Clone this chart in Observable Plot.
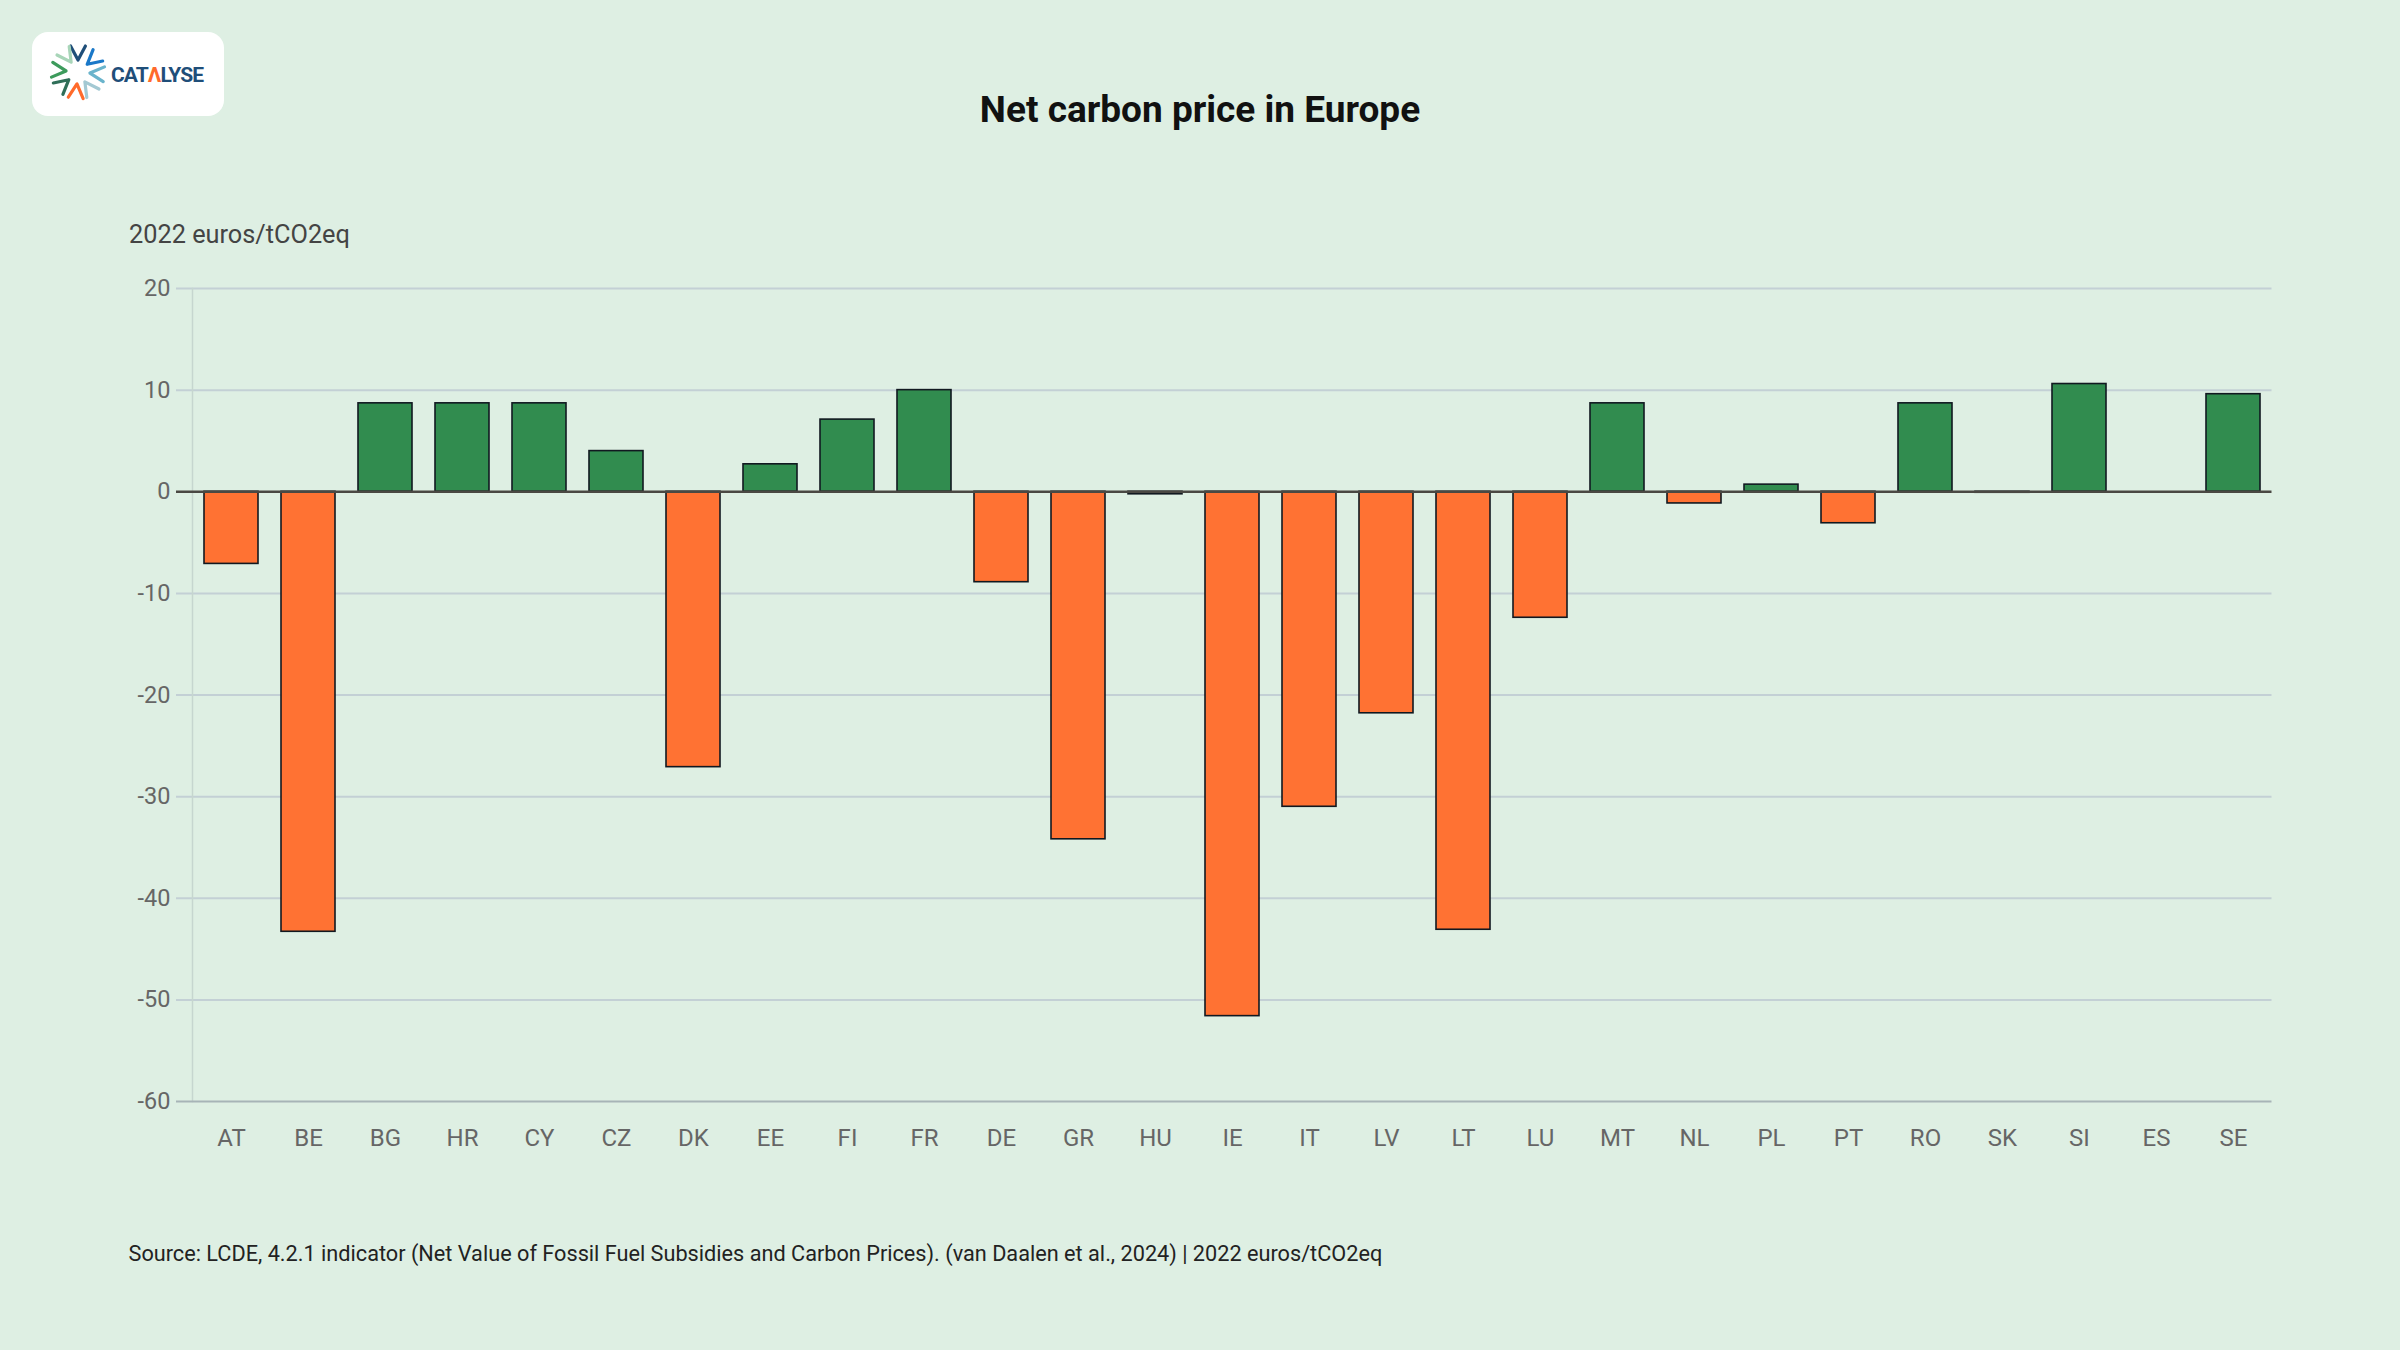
<!DOCTYPE html>
<html>
<head>
<meta charset="utf-8">
<script src="https://cdn.jsdelivr.net/npm/d3@7"></script>
<script src="https://cdn.jsdelivr.net/npm/@observablehq/plot@0.6"></script>
<style>
  html, body { margin: 0; padding: 0; background: #deefe3; }
  #page { position: relative; width: 2400px; height: 1350px; background: #deefe3; font-family: Roboto, "Noto Sans", sans-serif; overflow: hidden; }
  #logo { position: absolute; left: 32px; top: 32px; width: 192px; height: 84px; background: #ffffff; border-radius: 16px; }
  #title { position: absolute; left: 0; top: 90.6px; width: 2400px; text-align: center; font-size: 37px; line-height: 37px; font-weight: 700; color: #111; }
  #ylabel { position: absolute; left: 129px; top: 221.7px; font-size: 25.3px; line-height: 25.3px; color: #444; }
  #chart { position: absolute; left: 0; top: 260px; }
  #caption { position: absolute; left: 128.5px; top: 1243.4px; font-size: 21.7px; line-height: 21.7px; color: #222; }
</style>
</head>
<body>
<div id="page">
  <div id="logo"></div>
  <div id="title">Net carbon price in Europe</div>
  <div id="ylabel">2022 euros/tCO2eq</div>
  <div id="chart"></div>
  <div id="caption">Source: LCDE, 4.2.1 indicator (Net Value of Fossil Fuel Subsidies and Carbon Prices). (van Daalen et al., 2024) | 2022 euros/tCO2eq</div>
</div>
<script>
const countries = ["AT","BE","BG","HR","CY","CZ","DK","EE","FI","FR","DE","GR","HU","IE","IT","LV","LT","LU","MT","NL","PL","PT","RO","SK","SI","ES","SE"];
const values = [-7.1,-43.3,8.7,8.7,8.7,4.0,-27.1,2.7,7.1,10.0,-8.9,-34.2,-0.25,-51.6,-31.0,-21.8,-43.1,-12.4,8.7,-1.15,0.7,-3.1,8.7,-0.1,10.6,0,9.6];
const yTicks = [-60,-50,-40,-30,-20,-10,0,10,20];
const signs = ["positive","negative"];
const signColors = ["#318c4f","#ff7233"];

const data = countries.map((c, i) => ({country: c, value: values[i], sign: values[i] >= 0 ? "positive" : "negative"}));

const chart = Plot.plot({
  width: 2400,
  height: 901,
  marginTop: 28,
  marginBottom: 60,
  marginLeft: 192,
  marginRight: 128.5,
  style: {background: "transparent", fontFamily: "Roboto, 'Noto Sans', sans-serif", fontSize: "24px", color: "#666"},
  x: {domain: countries, paddingInner: 0.3, paddingOuter: 0.15, label: null},
  y: {domain: [-60, 20], label: null},
  color: {domain: signs, range: signColors},
  marks: [
    Plot.ruleY(yTicks.filter(t => t !== 0 && t !== -60), {stroke: "#c3d0d5", strokeWidth: 2, insetLeft: -16}),
    Plot.frame({anchor: "left", stroke: "#c6d6cf", strokeWidth: 1.5}),
    Plot.barY(data, {x: "country", y: "value", fill: "sign", stroke: "#111820", strokeWidth: 1.6}),
    Plot.ruleY([-60], {stroke: "#a7b4b7", strokeWidth: 2, insetLeft: -16}),
    Plot.ruleY([0], {stroke: "#4a4843", strokeWidth: 2.7, insetLeft: -16}),
    Plot.axisY({ticks: yTicks, tickFormat: d => String(d), tickSize: 0, tickPadding: 22, fontSize: 23.5, fill: "#666", label: null}),
    Plot.axisX({tickSize: 0, tickPadding: 27, fontSize: 24, fill: "#666", label: null})
  ]
});
document.getElementById("chart").appendChild(chart);

// Logo (decoration)
(function () {
  const ns = "http://www.w3.org/2000/svg";
  const svg = document.createElementNS(ns, "svg");
  svg.setAttribute("width", 192);
  svg.setAttribute("height", 84);
  const cx = 46, cy = 40;
  const spokes = [
    {a: -90, c: "#1f4e79"},
    {a: -40, c: "#1a78c8"},
    {a: 5, c: "#6ab4cc"},
    {a: 55, c: "#a3c9d3"},
    {a: 95, c: "#ff6a2b"},
    {a: 140, c: "#2f6e58"},
    {a: 185, c: "#3d9b5c"},
    {a: -125, c: "#a8d5b8"}
  ];
  const r1 = 12, r2 = 27, spread = 16;
  spokes.forEach(s => {
    const t = s.a * Math.PI / 180;
    const t1 = (s.a - spread) * Math.PI / 180;
    const t2 = (s.a + spread) * Math.PI / 180;
    const p = [
      [cx + r2 * Math.cos(t1), cy + r2 * Math.sin(t1)],
      [cx + r1 * Math.cos(t), cy + r1 * Math.sin(t)],
      [cx + r2 * Math.cos(t2), cy + r2 * Math.sin(t2)]
    ];
    const pl = document.createElementNS(ns, "polyline");
    pl.setAttribute("points", p.map(q => q.join(",")).join(" "));
    pl.setAttribute("fill", "none");
    pl.setAttribute("stroke", s.c);
    pl.setAttribute("stroke-width", 3.2);
    pl.setAttribute("stroke-linecap", "round");
    pl.setAttribute("stroke-linejoin", "round");
    svg.appendChild(pl);
  });
  const txt = document.createElementNS(ns, "text");
  txt.setAttribute("x", 79);
  txt.setAttribute("y", 49.7);
  txt.setAttribute("font-family", "Roboto, sans-serif");
  txt.setAttribute("font-weight", "700");
  txt.setAttribute("font-size", 21);
  txt.setAttribute("fill", "#1f4e79");
  txt.setAttribute("textLength", 93);
  txt.setAttribute("lengthAdjust", "spacing");
  const parts = [["CAT", "#1f4e79"], ["Λ", "#ff6a2b"], ["LYSE", "#1f4e79"]];
  parts.forEach(([s, c]) => {
    const ts = document.createElementNS(ns, "tspan");
    ts.setAttribute("fill", c);
    ts.textContent = s;
    txt.appendChild(ts);
  });
  svg.appendChild(txt);
  document.getElementById("logo").appendChild(svg);
})();
</script>
</body>
</html>
